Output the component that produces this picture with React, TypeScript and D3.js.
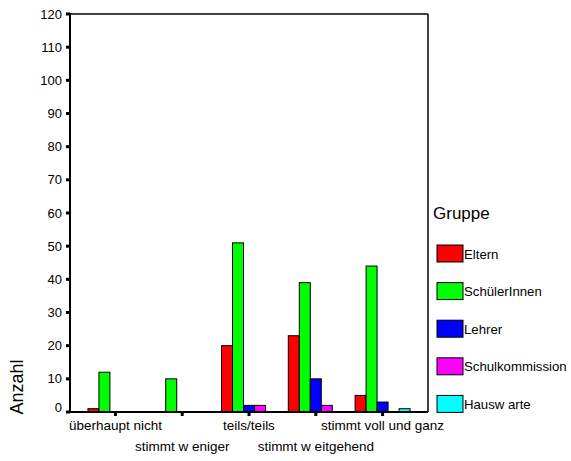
import React from "react";
import * as d3 from "d3";

const categories = ["überhaupt nicht", "stimmt w eniger", "teils/teils", "stimmt w eitgehend", "stimmt voll und ganz"];
const seriesNames = ["Eltern", "SchülerInnen", "Lehrer", "Schulkommission", "Hausw arte"];
const seriesColors = ["#ff0000", "#00ff00", "#0000ff", "#ff00ff", "#00ffff"];
const eltern = [1, 0, 20, 23, 5];
const schueler = [12, 10, 51, 39, 44];
const lehrer = [0, 0, 2, 10, 3];
const schulkommission = [0, 0, 2, 2, 0];
const hauswarte = [0, 0, 0, 0, 1];
const yTicks = [0, 10, 20, 30, 40, 50, 60, 70, 80, 90, 100, 110, 120];

const seriesValues = [eltern, schueler, lehrer, schulkommission, hauswarte];

export default function App() {
  const W = 571, H = 461;
  const left = 70, right = 428, top = 14, bottom = 412;
  const font = "Arial, 'Liberation Sans', sans-serif";
  const x = d3.scaleBand<string>().domain(categories).range([left, right]).paddingInner(0).paddingOuter(0.18);
  const barW = 11;
  const xs = d3.scaleBand<string>().domain(seriesNames).range([-barW * 2.5, barW * 2.5]);
  const y = d3.scaleLinear().domain([0, 120]).range([bottom, top]);

  return (
    <svg width={W} height={H} style={{ position: "absolute", left: 0, top: 0, background: "#fff" }} fontFamily={font}>
      {/* bars */}
      {seriesValues.map((vals, si) =>
        vals.map((v, ci) => {
          if (v <= 0) return null;
          const cx = (x(categories[ci]) as number) + x.bandwidth() / 2;
          const bx = cx + (xs(seriesNames[si]) as number);
          return (
            <rect key={`${si}-${ci}`} x={bx} y={y(v)} width={xs.bandwidth()} height={y(0) - y(v)}
              fill={seriesColors[si]} stroke="#000" strokeWidth={1} />
          );
        })
      )}
      {/* frame */}
      <line x1={left} x2={right} y1={top} y2={top} stroke="#000" strokeWidth={1.5} />
      <line x1={right} x2={right} y1={top} y2={bottom} stroke="#000" strokeWidth={1.5} />
      <line x1={left} x2={left} y1={top - 1} y2={bottom + 1} stroke="#000" strokeWidth={2} />
      <line x1={left} x2={right} y1={bottom} y2={bottom} stroke="#000" strokeWidth={2} />
      {/* y ticks */}
      {yTicks.map((t) => (
        <g key={t}>
          <rect x={left - 4} y={y(t) - 1.5} width={4} height={3} fill="#000" />
          <text x={left - 8} y={y(t) - (t === 0 ? 5 : 0)} dy="0.35em" textAnchor="end" fontSize={13} fill="#000">{t}</text>
        </g>
      ))}
      {/* x ticks and labels */}
      {categories.map((c, i) => {
        const cx = (x(c) as number) + x.bandwidth() / 2;
        return (
          <g key={c}>
            <rect x={cx - 1.5} y={bottom} width={3} height={4} fill="#000" />
            <text x={cx} y={i % 2 === 0 ? 430 : 451} textAnchor="middle" fontSize={13.5} fill="#000">{c}</text>
          </g>
        );
      })}
      {/* y title */}
      <text transform={`translate(23,387) rotate(-90)`} textAnchor="middle" fontSize={18} fill="#000">Anzahl</text>
      {/* legend */}
      <text x={433} y={219} fontSize={17} fill="#000">Gruppe</text>
      {seriesNames.map((s, i) => {
        const ly = 245 + i * 37.6;
        return (
          <g key={s}>
            <rect x={437} y={ly} width={26} height={17} fill={seriesColors[i]} stroke="#000" strokeWidth={1} />
            <text x={464} y={ly + 9} dy="0.35em" fontSize={13.2} fill="#000">{s}</text>
          </g>
        );
      })}
    </svg>
  );
}
